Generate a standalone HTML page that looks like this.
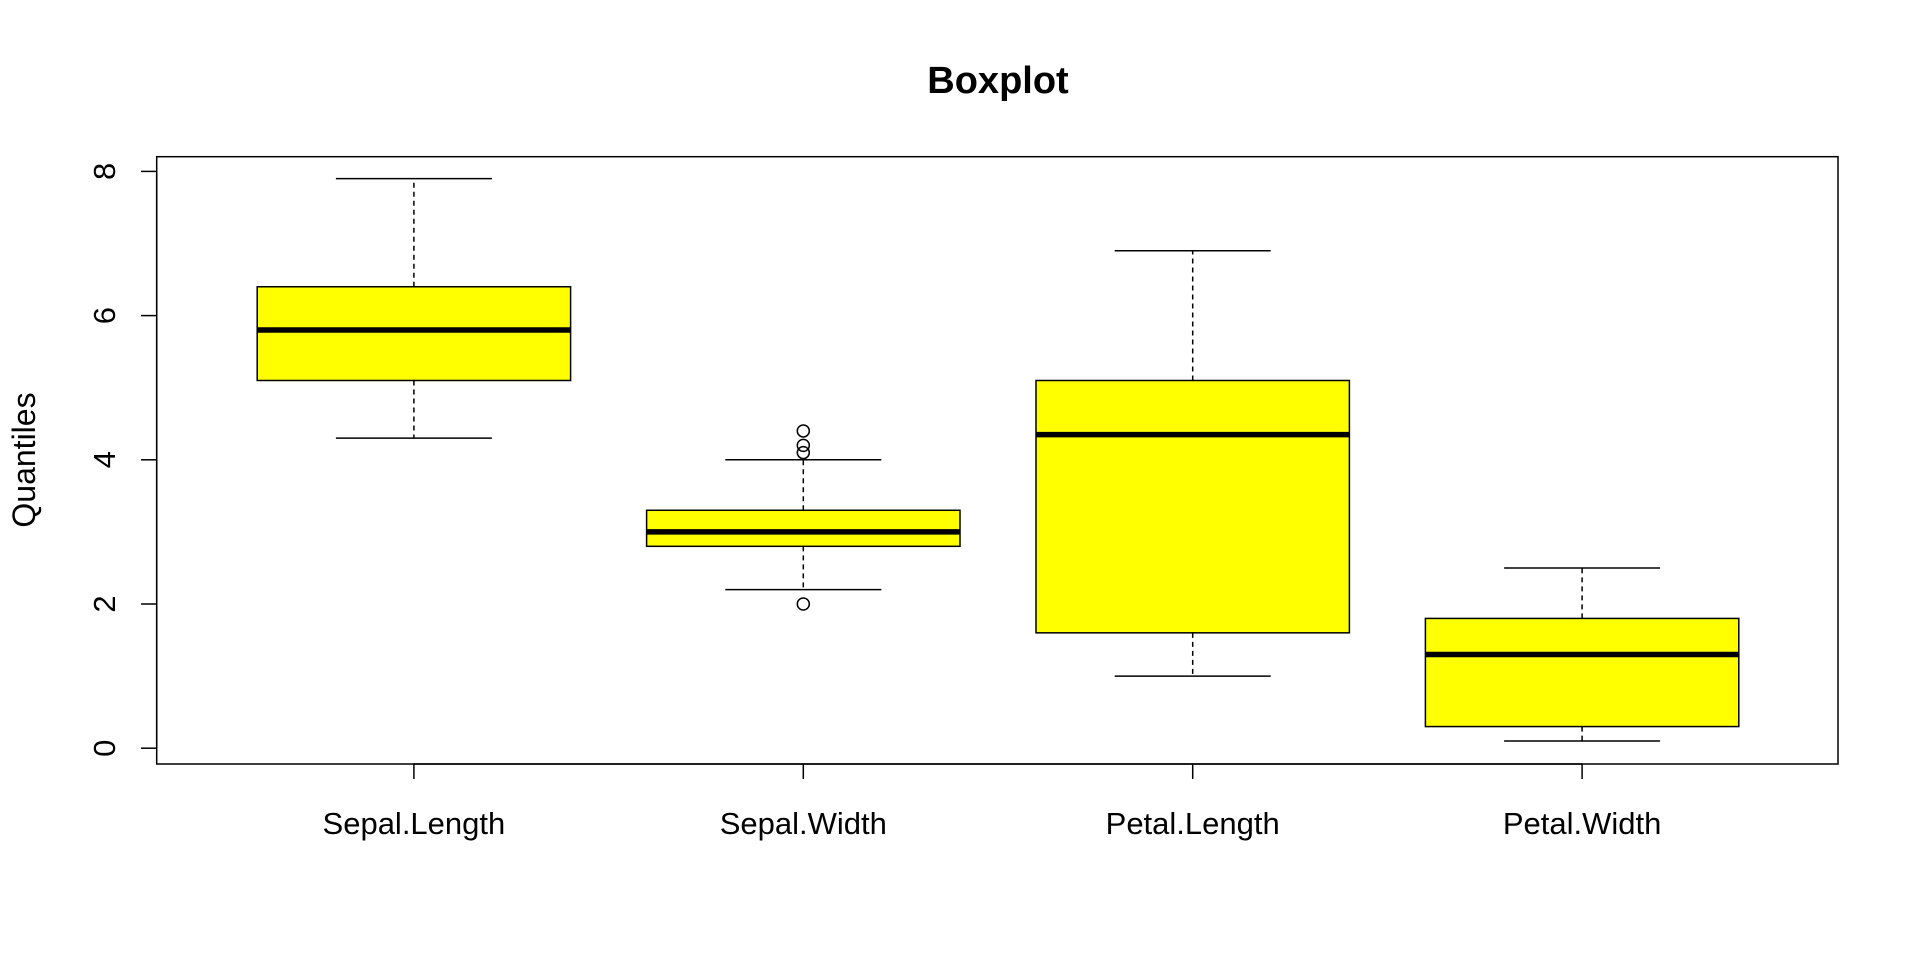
<!DOCTYPE html>
<html><head><meta charset="utf-8"><style>
html,body{margin:0;padding:0;background:#fff;}
svg{display:block;font-family:"Liberation Sans",Arial,sans-serif;}
</style></head><body>
<svg id="chart" width="1920" height="960" viewBox="0 0 1920 960">
<text x="998" y="93" text-anchor="middle" font-size="38" font-weight="bold">Boxplot</text>
<rect x="156.7" y="156.7" width="1681.3" height="607.3" fill="none" stroke="#000" stroke-width="1.5"/>
<text transform="translate(35,460) rotate(-90)" text-anchor="middle" font-size="32">Quantiles</text>
<g id="yaxis"></g>
<g id="xaxis"></g>
<g id="boxes"></g>
</svg>
<script>
const categories = ["Sepal.Length","Sepal.Width","Petal.Length","Petal.Width"];
const mins = [4.3, 2.2, 1.0, 0.1];
const q1s = [5.1, 2.8, 1.6, 0.3];
const medians = [5.8, 3.0, 4.35, 1.3];
const q3s = [6.4, 3.3, 5.1, 1.8];
const maxs = [7.9, 4.0, 6.9, 2.5];
const outliers = [[], [4.4, 4.1, 4.2, 2.0], [], []];
const yTicks = [0, 2, 4, 6, 8];

const NS = "http://www.w3.org/2000/svg";
function y(v){ return 748.2 - v * 72.1; }
function x(i){ return 413.9 + i * 389.4; }
function mk(parent, tag, attrs){
  const e = document.createElementNS(NS, tag);
  for (const k in attrs) e.setAttribute(k, attrs[k]);
  parent.appendChild(e); return e;
}
const ya = document.getElementById('yaxis');
mk(ya,'line',{x1:156.7,x2:156.7,y1:y(0),y2:y(8),stroke:'#000','stroke-width':1.5});
yTicks.forEach(t=>{
  const l = mk(ya,'line',{x1:141,x2:156.7,y1:y(t),y2:y(t),stroke:'#000','stroke-width':1.5});
  
  
  const tx = mk(ya,'text',{transform:`translate(115,${y(t)}) rotate(-90)`,'text-anchor':'middle','font-size':31});
  tx.textContent = t;
  
  
});
const xa = document.getElementById('xaxis');
mk(xa,'line',{x1:x(0),x2:x(3),y1:764,y2:764,stroke:'#000','stroke-width':1.5});
categories.forEach((c,i)=>{
  const l = mk(xa,'line',{x1:x(i),x2:x(i),y1:764,y2:779,stroke:'#000','stroke-width':1.5});
  
  
  const tx = mk(xa,'text',{x:x(i),y:834,'text-anchor':'middle','font-size':31});
  tx.textContent = c;
  
  
});
const bg = document.getElementById('boxes');
const hw = 156.7, cw = 78;
categories.forEach((c,i)=>{
  const g = mk(bg,'g',{});
  
  
  const cx = x(i);
  mk(g,'line',{x1:cx,x2:cx,y1:y(q3s[i]),y2:y(maxs[i]),stroke:'#000','stroke-width':1.5,'stroke-dasharray':'5,4'});
  mk(g,'line',{x1:cx,x2:cx,y1:y(q1s[i]),y2:y(mins[i]),stroke:'#000','stroke-width':1.5,'stroke-dasharray':'5,4'});
  mk(g,'line',{x1:cx-cw,x2:cx+cw,y1:y(maxs[i]),y2:y(maxs[i]),stroke:'#000','stroke-width':1.5});
  mk(g,'line',{x1:cx-cw,x2:cx+cw,y1:y(mins[i]),y2:y(mins[i]),stroke:'#000','stroke-width':1.5});
  mk(g,'rect',{x:cx-hw,y:y(q3s[i]),width:2*hw,height:y(q1s[i])-y(q3s[i]),fill:'#ffff00',stroke:'#000','stroke-width':1.5});
  mk(g,'line',{x1:cx-hw,x2:cx+hw,y1:y(medians[i]),y2:y(medians[i]),stroke:'#000','stroke-width':5.5});
  outliers[i].forEach(o=>{
    const p = mk(g,'circle',{cx:cx,cy:y(o),r:6,fill:'none',stroke:'#000','stroke-width':1.5});
    
    
  });
});
</script>
</body></html>
